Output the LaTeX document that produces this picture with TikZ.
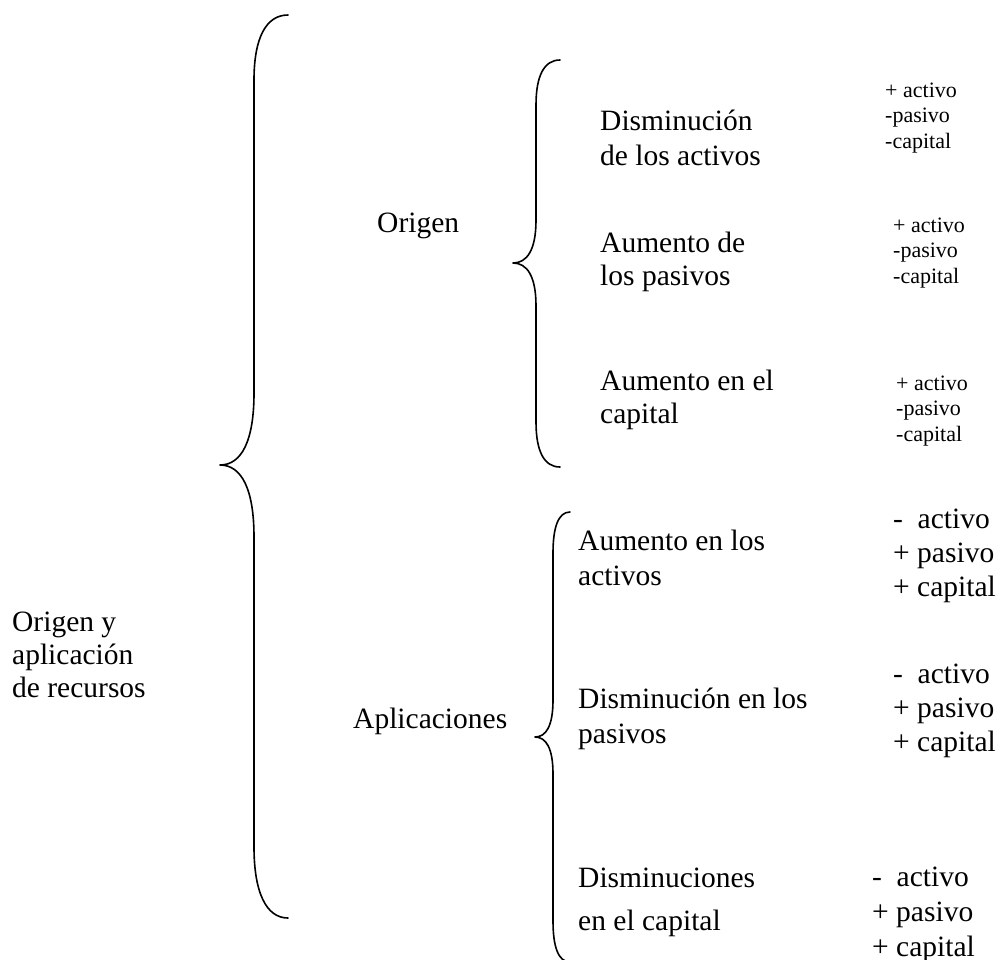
\documentclass[tikz,border=0pt]{standalone}
\usepackage{fontspec}
\setmainfont{Liberation Serif}
\begin{document}
\begin{tikzpicture}[x=1pt,y=-1pt,
  brace/.style={line width=1.6pt, line cap=round, line join=round},
  lbl/.style={anchor=base west, inner sep=0pt, font=\fontsize{29.5}{#1}\selectfont},
  lbl/.default=34,
  sml/.style={anchor=base west, inner sep=0pt, font=\fontsize{22}{#1}\selectfont},
  sml/.default=25.5]
\useasboundingbox (0,0) rectangle (1000,959);
\begin{scope}
\clip (0,0) rectangle (1000,959);
% big brace
\draw[brace] (288,15) .. controls (266,15) and (254,38) .. (254,80)
  -- (254,393) .. controls (254,440) and (242,465) .. (220,465)
  .. controls (242,465) and (254,490) .. (254,537)
  -- (254,847) .. controls (254,892) and (266,918) .. (288,918);
% origen brace
\draw[brace] (560,60) .. controls (544,60) and (536,76) .. (536,105)
  -- (536,220) .. controls (536,250) and (527,263) .. (513,263)
  .. controls (527,263) and (536,276) .. (536,306)
  -- (536,422) .. controls (536,451) and (544,467) .. (560,467);
% aplicaciones brace
\draw[brace] (570,512) .. controls (558,512) and (553,528) .. (553,553)
  -- (553,700) .. controls (553,726) and (546,737) .. (535,737)
  .. controls (546,737) and (553,748) .. (553,774)
  -- (553,921) .. controls (553,946) and (558,962) .. (570,962);
\end{scope}

\node[lbl=33] (root) at (12,631) {\begin{tabular}[t]{@{}l@{}}Origen y\\aplicación\\de recursos\end{tabular}};
\node[lbl] (orig) at (377,232) {Origen};
\node[lbl] (apl) at (353,728) {Aplicaciones};

\node[lbl=35] (o1) at (600,130) {\begin{tabular}[t]{@{}l@{}}Disminución\\de los activos\end{tabular}};
\node[lbl=33] (o2) at (600,252) {\begin{tabular}[t]{@{}l@{}}Aumento de\\los pasivos\end{tabular}};
\node[lbl=33] (o3) at (600,390) {\begin{tabular}[t]{@{}l@{}}Aumento en el\\capital\end{tabular}};

\node[sml] (r1) at (885,97) {\begin{tabular}[t]{@{}l@{}}+ activo\\-pasivo\\-capital\end{tabular}};
\node[sml] (r2) at (893,232) {\begin{tabular}[t]{@{}l@{}}+ activo\\-pasivo\\-capital\end{tabular}};
\node[sml] (r3) at (896,390) {\begin{tabular}[t]{@{}l@{}}+ activo\\-pasivo\\-capital\end{tabular}};

\node[lbl=35] (a1) at (578,550) {\begin{tabular}[t]{@{}l@{}}Aumento en los\\activos\end{tabular}};
\node[lbl=35] (a2) at (578,708) {\begin{tabular}[t]{@{}l@{}}Disminución en los\\pasivos\end{tabular}};
\node[lbl=43] (a3) at (578,887) {\begin{tabular}[t]{@{}l@{}}Disminuciones\\en el capital\end{tabular}};

\node[lbl] (s1) at (893,528) {\begin{tabular}[t]{@{}l@{}}\makebox[24.5pt][l]{-}activo\\+ pasivo\\+ capital\end{tabular}};
\node[lbl] (s2) at (893,683) {\begin{tabular}[t]{@{}l@{}}\makebox[24.5pt][l]{-}activo\\+ pasivo\\+ capital\end{tabular}};
\node[lbl=35] (s3) at (872,886) {\begin{tabular}[t]{@{}l@{}}\makebox[24.5pt][l]{-}activo\\+ pasivo\\+ capital\end{tabular}};
\end{tikzpicture}
\end{document}
